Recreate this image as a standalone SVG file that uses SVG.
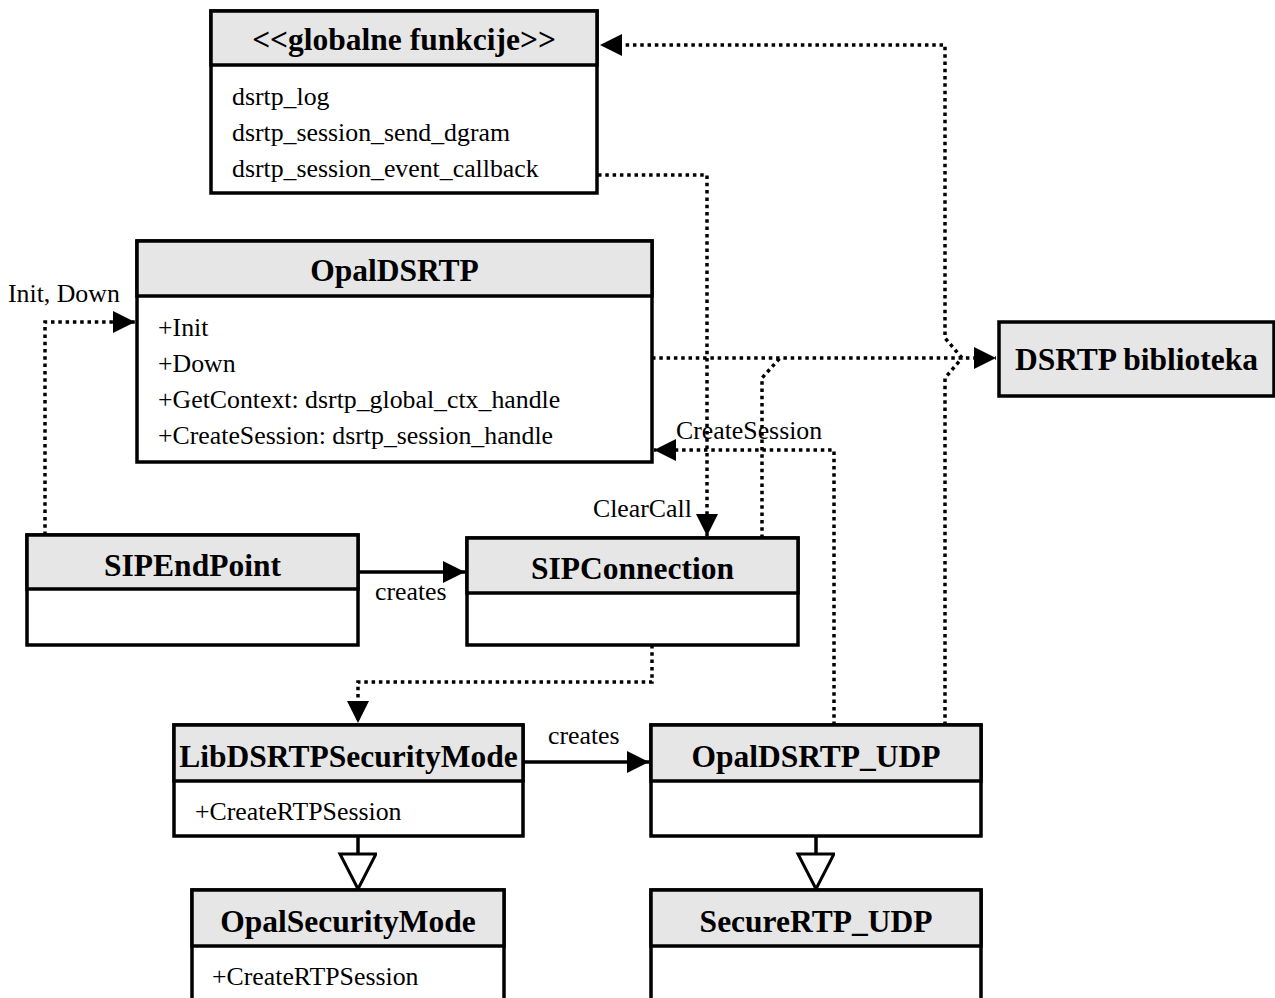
<svg xmlns="http://www.w3.org/2000/svg" width="1275" height="998" viewBox="0 0 1275 998">
<defs>
<marker id="fa" markerWidth="24" markerHeight="24" viewBox="0 0 24 24" refX="22" refY="12" orient="auto" markerUnits="userSpaceOnUse">
<path d="M0,1 L22,12 L0,23 Z" fill="#000"/>
</marker>
<marker id="ha" markerWidth="40" markerHeight="40" viewBox="0 0 40 40" refX="37" refY="19" orient="auto" markerUnits="userSpaceOnUse">
<path d="M2,1 L37,19 L2,37 Z" fill="#fff" stroke="#000" stroke-width="3"/>
</marker>
</defs>
<style>
.box{fill:#fff;stroke:#000;stroke-width:3.5}
.hdr{fill:#e6e6e6;stroke:#000;stroke-width:3.5}
.t{font-family:"Liberation Serif","Times New Roman",serif;font-weight:bold;font-size:31.5px;text-anchor:middle;fill:#000}
.m{font-family:"Liberation Serif","Times New Roman",serif;font-size:25.8px;fill:#000}
.l{font-family:"Liberation Serif","Times New Roman",serif;font-size:25.8px;fill:#000}
.d{fill:none;stroke:#000;stroke-width:3.5;stroke-dasharray:3.5 3.8}
.s{fill:none;stroke:#000;stroke-width:3.5}
</style>
<rect width="1275" height="998" fill="#fff"/>
<g id="connectors">
<path class="d" d="M945,725 V378 L962,358"/>
<path class="d" d="M652,358 H996" marker-end="url(#fa)"/>
<path class="d" d="M962,358 L945,338 V45 H600" marker-end="url(#fa)"/>
<path class="d" d="M762,538 V378 L780,358"/>
<path class="d" d="M598,175 H707 V536" marker-end="url(#fa)"/>
<path class="d" d="M834,725 V450 H654" marker-end="url(#fa)"/>
<path class="d" d="M45,535 V322 H135" marker-end="url(#fa)"/>
<path class="s" d="M358,572 H465" marker-end="url(#fa)"/>
<path class="d" d="M652,645 V682 H358 V723" marker-end="url(#fa)"/>
<path class="s" d="M523,762 H649" marker-end="url(#fa)"/>
<path class="s" d="M358,836 V889" marker-end="url(#ha)"/>
<path class="s" d="M816,836 V889" marker-end="url(#ha)"/>
<text class="l" x="8" y="302">Init, Down</text>
<text class="l" x="593" y="517">ClearCall</text>
<text class="l" x="676" y="439">CreateSession</text>
<text class="l" x="375" y="600">creates</text>
<text class="l" x="548" y="744">creates</text>
</g>
<g id="globalne">
<rect class="box" x="211" y="11" width="386" height="182"/>
<rect class="hdr" x="211" y="11" width="386" height="54"/>
<text class="t" x="404" y="50">&lt;&lt;globalne funkcije&gt;&gt;</text>
<text class="m" x="232" y="105">dsrtp_log</text>
<text class="m" x="232" y="141">dsrtp_session_send_dgram</text>
<text class="m" x="232" y="177">dsrtp_session_event_callback</text>
</g>
<g id="OpalDSRTP">
<rect class="box" x="137" y="241" width="515" height="221"/>
<rect class="hdr" x="137" y="241" width="515" height="55"/>
<text class="t" x="394.5" y="281">OpalDSRTP</text>
<text class="m" x="158" y="336">+Init</text>
<text class="m" x="158" y="372">+Down</text>
<text class="m" x="158" y="408">+GetContext: dsrtp_global_ctx_handle</text>
<text class="m" x="158" y="444">+CreateSession: dsrtp_session_handle</text>
</g>
<g id="DSRTPbiblioteka">
<rect class="hdr" x="999" y="322" width="275" height="74"/>
<text class="t" x="1136.5" y="370">DSRTP biblioteka</text>
</g>
<g id="SIPEndPoint">
<rect class="box" x="27" y="535" width="331" height="110"/>
<rect class="hdr" x="27" y="535" width="331" height="54"/>
<text class="t" x="192.5" y="576">SIPEndPoint</text>
</g>
<g id="SIPConnection">
<rect class="box" x="467" y="538" width="331" height="107"/>
<rect class="hdr" x="467" y="538" width="331" height="55"/>
<text class="t" x="632.5" y="579">SIPConnection</text>
</g>
<g id="LibDSRTPSecurityMode">
<rect class="box" x="174" y="725" width="349" height="111"/>
<rect class="hdr" x="174" y="725" width="349" height="56"/>
<text class="t" x="348.5" y="767">LibDSRTPSecurityMode</text>
<text class="m" x="195" y="820">+CreateRTPSession</text>
</g>
<g id="OpalDSRTP_UDP">
<rect class="box" x="651" y="725" width="330" height="111"/>
<rect class="hdr" x="651" y="725" width="330" height="56"/>
<text class="t" x="816" y="767">OpalDSRTP_UDP</text>
</g>
<g id="OpalSecurityMode">
<rect class="box" x="192" y="890" width="312" height="120"/>
<rect class="hdr" x="192" y="890" width="312" height="56"/>
<text class="t" x="348" y="932">OpalSecurityMode</text>
<text class="m" x="212" y="985">+CreateRTPSession</text>
</g>
<g id="SecureRTP_UDP">
<rect class="box" x="651" y="890" width="330" height="120"/>
<rect class="hdr" x="651" y="890" width="330" height="56"/>
<text class="t" x="816" y="932">SecureRTP_UDP</text>
</g>
</svg>
